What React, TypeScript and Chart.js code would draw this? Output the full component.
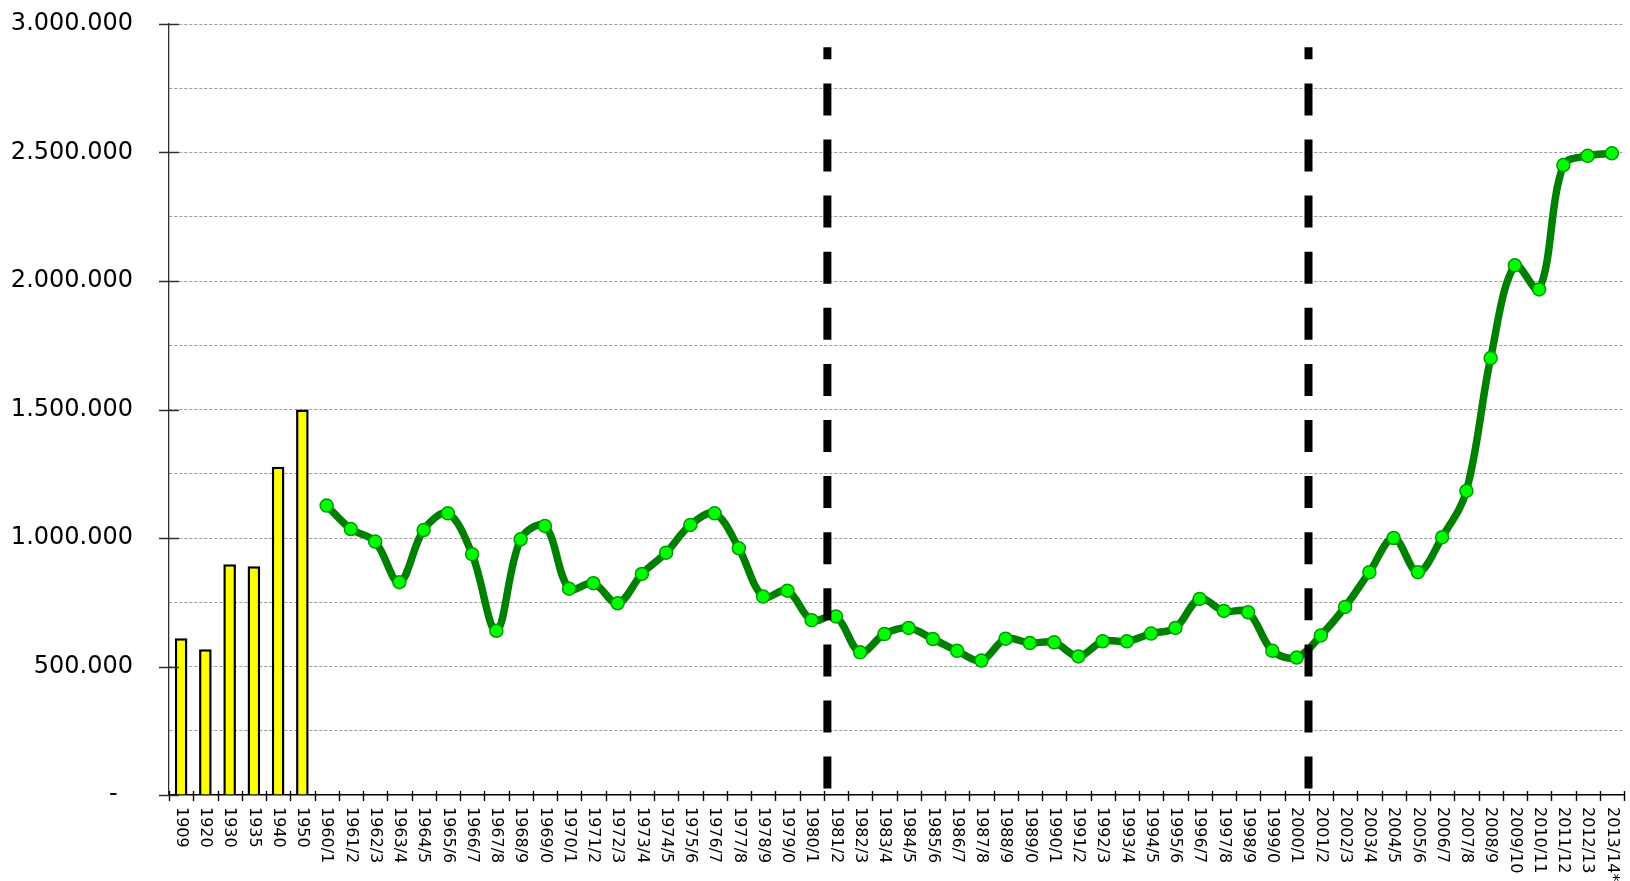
import { useEffect, useRef } from 'react';
import { Chart, registerables } from 'chart.js';

Chart.register(...registerables);

// ---- data ----
const barYears: string[] = ['1909', '1920', '1930', '1935', '1940', '1950'];
const barValues: number[] = [610000, 567000, 898000, 890000, 1277000, 1500000];

const seasonLabels: string[] = [
  '1960/1', '1961/2', '1962/3', '1963/4', '1964/5', '1965/6', '1966/7', '1967/8', '1968/9', '1969/0',
  '1970/1', '1971/2', '1972/3', '1973/4', '1974/5', '1975/6', '1976/7', '1977/8', '1978/9', '1979/0',
  '1980/1', '1981/2', '1982/3', '1983/4', '1984/5', '1985/6', '1986/7', '1987/8', '1988/9', '1989/0',
  '1990/1', '1991/2', '1992/3', '1993/4', '1994/5', '1995/6', '1996/7', '1997/8', '1998/9', '1999/0',
  '2000/1', '2001/2', '2002/3', '2003/4', '2004/5', '2005/6', '2006/7', '2007/8', '2008/9', '2009/10',
  '2010/11', '2011/12', '2012/13', '2013/14*',
];
const seasonValues: number[] = [
  1126000, 1035000, 986000, 828000, 1031000, 1096000, 937000, 639000, 995000, 1047000,
  803000, 824000, 746000, 860000, 943000, 1051000, 1096000, 960000, 772000, 795000,
  680000, 695000, 555000, 626000, 650000, 607000, 561000, 523000, 608000, 591000,
  594000, 539000, 598000, 598000, 628000, 650000, 763000, 716000, 711000, 561000,
  535000, 621000, 732000, 867000, 1000000, 867000, 1003000, 1183000, 1700000, 2061000,
  1967000, 2451000, 2487000, 2497000,
];

// y axis: 0 .. 3.000.000, gridline every 250.000, label every 500.000
const yMin = 0;
const yMax = 3000000;
const yGridStep = 250000;
const yLabelStep = 500000;

// vertical dashed dividers (category positions) and their value span
const dividerPositions: number[] = [26.65, 46.49];
const dividerSpan: number[] = [25000, 2910000];

const allLabels = [...barYears, ...seasonLabels];
const barData = allLabels.map((_, i) => (i < barValues.length ? barValues[i] : null));
const lineData = allLabels.map((_, i) => (i < barYears.length ? null : seasonValues[i - barYears.length]));

const fmt = (v: number) => String(v).replace(/\B(?=(\d{3})+(?!\d))/g, '.');

const overlayPlugin = {
  id: 'overlay',
  afterDatasetsDraw(chart: any) {
    const { ctx, scales } = chart;
    const x = scales.x;
    const y = scales.y;
    ctx.save();
    ctx.strokeStyle = '#000';
    ctx.lineWidth = 8;
    ctx.lineCap = 'butt';
    ctx.setLineDash([32, 24.1]);
    for (const pos of dividerPositions) {
      const px = x.getPixelForValue(pos);
      ctx.beginPath();
      ctx.moveTo(px, y.getPixelForValue(dividerSpan[0]));
      ctx.lineTo(px, y.getPixelForValue(dividerSpan[1]));
      ctx.stroke();
    }
    ctx.restore();
  },
  afterDraw(chart: any) {
    const { ctx, scales } = chart;
    const x = scales.x;
    const y = scales.y;
    const base = y.getPixelForValue(0);
    ctx.save();
    // x tick marks between categories (crossing the axis)
    ctx.strokeStyle = '#000';
    ctx.lineWidth = 1.4;
    ctx.beginPath();
    for (let i = 0; i <= allLabels.length; i++) {
      const px = Math.round(x.getPixelForValue(i - 0.5)) + 0.5;
      ctx.moveTo(px, base - 4);
      ctx.lineTo(px, base + 6);
    }
    ctx.stroke();
    // y major ticks crossing the axis
    ctx.strokeStyle = '#303030';
    ctx.lineWidth = 1.3;
    ctx.beginPath();
    for (let v = yMin; v <= yMax; v += yLabelStep) {
      const py = Math.round(y.getPixelForValue(v)) + 0.5;
      ctx.moveTo(y.right - 10, py);
      ctx.lineTo(y.right + 10, py);
    }
    ctx.stroke();
    // rotated category labels (reading top to bottom)
    ctx.fillStyle = '#000';
    ctx.font = '16px "DejaVu Sans"';
    ctx.textAlign = 'left';
    ctx.textBaseline = 'middle';
    allLabels.forEach((lab, i) => {
      const px = x.getPixelForValue(i);
      ctx.save();
      ctx.translate(px, base + 12);
      ctx.rotate(Math.PI / 2);
      ctx.fillText(lab, 0, 0);
      ctx.restore();
    });
    ctx.restore();
  },
};

export default function App() {
  const canvasRef = useRef<HTMLCanvasElement | null>(null);

  useEffect(() => {
    if (!canvasRef.current) return;
    const chart = new Chart(canvasRef.current, {
      type: 'bar',
      data: {
        labels: allLabels,
        datasets: [
          {
            type: 'line',
            label: 'seasons',
            data: lineData,
            borderColor: '#008000',
            borderWidth: 7.5,
            tension: 0.35,
            pointRadius: 6.5,
            pointBackgroundColor: '#00ff00',
            pointBorderColor: '#009a00',
            pointBorderWidth: 1.5,
            fill: false,
            order: 0,
          } as any,
          {
            type: 'bar',
            label: 'years',
            data: barData,
            backgroundColor: '#ffff00',
            borderColor: '#000000',
            borderWidth: 2.5,
            barPercentage: 0.52,
            categoryPercentage: 1,
            order: 1,
          } as any,
        ],
      },
      options: {
        responsive: false,
        animation: false,
        devicePixelRatio: 1,
        layout: { padding: { top: 24, right: 0, bottom: 0, left: 0 } },
        plugins: {
          legend: { display: false },
          tooltip: { enabled: false },
        },
        scales: {
          x: {
            type: 'category',
            offset: true,
            grid: { display: false, offset: true },
            border: { display: true, color: '#000', width: 1.5 },
            ticks: { display: false },
            afterFit: (s: any) => {
              s.height = 86;
            },
          },
          y: {
            type: 'linear',
            min: yMin,
            max: yMax,
            border: { display: true, color: '#303030', width: 1.3, dash: [3, 2] },
            grid: {
              drawTicks: true,
              tickLength: 33,
              tickColor: 'rgba(0,0,0,0)',
              color: (c: any) => (c.tick && c.tick.value === 0 ? 'rgba(0,0,0,0)' : '#9a9a9a'),
              lineWidth: 1,
            },
            ticks: {
              stepSize: yGridStep,
              padding: 3,
              color: '#000',
              font: { family: '"DejaVu Sans"', size: 24 },
              callback: (v: any) => {
                const n = Number(v);
                if (n === 0) return '-  ';
                if (n % yLabelStep !== 0) return '';
                return fmt(n);
              },
            },
            afterFit: (s: any) => {
              s.width = 169;
            },
          },
        },
      } as any,
      plugins: [overlayPlugin],
    });
    return () => chart.destroy();
  }, []);

  return (
    <div
      style={{
        position: 'fixed',
        left: 0,
        top: 0,
        width: 1630,
        height: 881,
        overflow: 'hidden',
        background: '#fff',
      }}
    >
      <canvas ref={canvasRef} width={1632} height={881} style={{ display: 'block' }} />
    </div>
  );
}
